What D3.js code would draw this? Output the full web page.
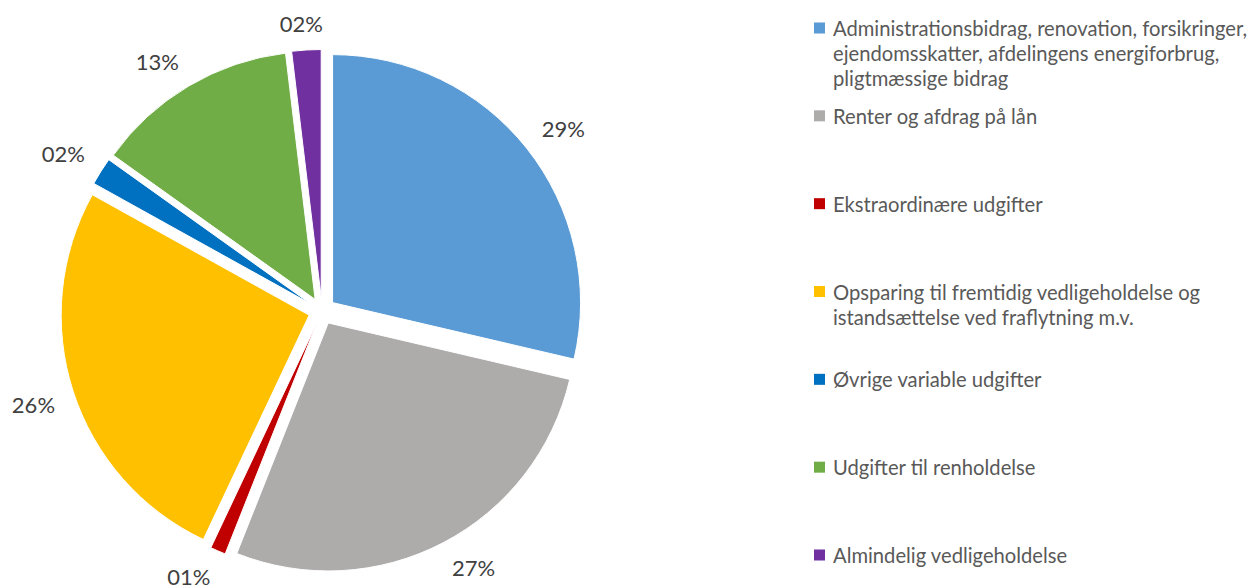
<!DOCTYPE html>
<html>
<head>
    <script src="https://d3js.org/d3.v7.min.js"></script>
    <style>
        body { margin: 0; background: white; }
        text { font-family: Lato, "Open Sans", sans-serif; }
    </style>
</head>
<body>
<svg id="chart"></svg>

<script>
    // categories and values
    const categories = [
        'Administrationsbidrag, renovation, forsikringer,\nejendomsskatter, afdelingens energiforbrug,\npligtmæssige bidrag',
        'Renter og afdrag på lån',
        'Ekstraordinære udgifter',
        'Opsparing til fremtidig vedligeholdelse og\nistandsættelse ved fraflytning m.v.',
        'Øvrige variable udgifter',
        'Udgifter til renholdelse',
        'Almindelig vedligeholdelse'
    ];
    const shares = [28.6, 27.3, 1.0, 26.0, 1.8, 13.2, 1.9];
    const pctLabels = ['29%', '27%', '01%', '26%', '02%', '13%', '02%'];
    const colors = ['#5B9BD5', '#AEABAB', '#C00000', '#FFC000', '#0070C0', '#70AD47', '#7030A0'];

    let svg = d3.select('#chart')
                .attr('width', 1251)
                .attr('height', 586);

    const cx = 322, cy = 311;
    const radius = 248;
    const explode = 13.5;

    let pie = d3.pie().sort(null).value(d => d);
    let arcs = pie(shares);
    let arcGen = d3.arc().innerRadius(0).outerRadius(radius);

    let g = svg.append('g').attr('transform', `translate(${cx},${cy})`);

    // slices, each pushed out along its bisector
    g.selectAll('path')
     .data(arcs)
     .join('path')
     .attr('d', arcGen)
     .attr('fill', (d, i) => colors[i])
     .attr('stroke', 'white')
     .attr('stroke-width', 1)
     .attr('transform', d => {
         let a = (d.startAngle + d.endAngle) / 2;
         return `translate(${explode * Math.sin(a)},${-explode * Math.cos(a)})`;
     });

    // outside-end labels: the label corner nearest the pie sits on the bisector ray
    const clamp = v => Math.max(-1, Math.min(1, v));
    g.selectAll('text.lbl')
     .data(arcs)
     .join('text')
     .attr('class', 'lbl')
     .attr('text-anchor', 'middle')
     .attr('dominant-baseline', 'central')
     .attr('font-size', 22)
     .attr('fill', '#404040')
     .text((d, i) => pctLabels[i])
     .each(function(d) {
         let a = (d.startAngle + d.endAngle) / 2;
         let bb = this.getBBox();
         let s = Math.sin(a), c = -Math.cos(a);
         let dist = radius + explode + 19;
         let x = dist * s + (bb.width / 2) * clamp(3 * s);
         let y = dist * c + 8 * clamp(3 * c);
         d3.select(this).attr('x', x).attr('y', y);
     });

    // legend
    let legendY = d3.scaleLinear().domain([0, 6]).range([28, 555]);
    let legend = svg.append('g').attr('class', 'legend');
    categories.forEach((name, i) => {
        let y = legendY(i);
        legend.append('rect')
              .attr('x', 814)
              .attr('y', y - 5.5)
              .attr('width', 11)
              .attr('height', 11)
              .attr('fill', colors[i]);
        let t = legend.append('text')
                      .attr('x', 833)
                      .attr('y', y)
                      .attr('font-size', 20.2)
                      .attr('fill', '#595959')
                      .attr('dominant-baseline', 'central');
        name.split('\n').forEach((line, j) => {
            t.append('tspan')
             .attr('x', 833)
             .attr('dy', j === 0 ? 0 : 25)
             .text(line);
        });
    });
</script>
</body>
</html>
